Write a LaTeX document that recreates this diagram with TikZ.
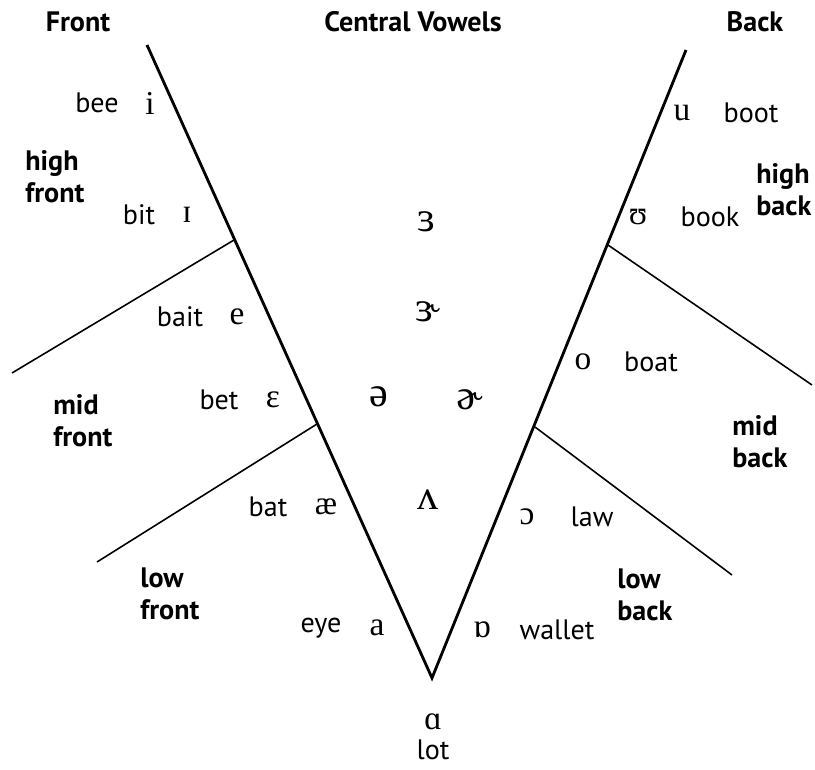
\documentclass[tikz,border=0pt]{standalone}
\usepackage{fontspec}
\setmainfont{PT Sans}
\newfontfamily\ipafont{Liberation Serif}
\begin{document}
\tikzset{
  word/.style={font=\fontsize{16}{18}\selectfont, inner sep=0pt},
  sym/.style={font=\ipafont\fontsize{19}{21}\selectfont, inner sep=0pt},
  midsym/.style={font=\ipafont\fontsize{24}{26}\selectfont, inner sep=0pt},
  region/.style={font=\bfseries\fontsize{16}{18}\selectfont, align=left, inner sep=0pt, anchor=west},
  heading/.style={font=\bfseries\fontsize{16}{18}\selectfont, inner sep=0pt},
}
\begin{tikzpicture}[x=0.02cm, y=-0.02cm]
  \useasboundingbox (0,0) rectangle (815,770);

  % The V
  \coordinate (V) at (432,678);
  \coordinate (FT) at (147,45);
  \coordinate (BT) at (686,50);

  % Branches on the front side
  \coordinate (F1) at (234,240);
  \coordinate (F1e) at (12,373);
  \coordinate (F2) at (317,424);
  \coordinate (F2e) at (97,562);

  % Branches on the back side
  \coordinate (B1) at (608,245);
  \coordinate (B1e) at (812,385);
  \coordinate (B2) at (535,427);
  \coordinate (B2e) at (732,575);

  \draw[line width=1.6pt] (FT) -- (V) -- (BT);
  \draw[line width=0.9pt] (F1) -- (F1e);
  \draw[line width=0.9pt] (F2) -- (F2e);
  \draw[line width=0.9pt] (B1) -- (B1e);
  \draw[line width=0.9pt] (B2) -- (B2e);

  % Headings
  \node[heading] (front) at (78,22) {Front};
  \node[heading] (central) at (413,22) {Central Vowels};
  \node[heading] (back) at (755,22) {Back};

  % Front vowels
  \node[word] (bee) at (97,103) {bee};
  \node[sym] (i) at (150,103) {i};
  \node[word] (bit) at (139,215) {bit};
  \node[sym] (I) at (187,215) {ɪ};
  \node[word] (bait) at (180,317) {bait};
  \node[sym] (e) at (237,317) {e};
  \node[word] (bet) at (219,400) {bet};
  \node[sym] (E) at (273,400) {ɛ};
  \node[word] (bat) at (268,507) {bat};
  \node[sym] (ae) at (326,507) {æ};
  \node[word] (eye) at (321,628) {eye};
  \node[sym] (a) at (377,628) {a};

  \node[region] (highF) at (25,177) {high\\front};
  \node[region] (midF) at (53,421) {mid\\front};
  \node[region] (lowF) at (140,594) {low\\front};

  % Central vowels
  \node[midsym] (er) at (426,222) {ɜ};
  \node[midsym] (err) at (428,312) {ɝ};
  \node[midsym] (schwa) at (379,397) {ə};
  \node[midsym] (schwar) at (470,400) {ɚ};
  \node[midsym] (wedge) at (428,500) {ʌ};
  \node[sym] (ah) at (433,722) {ɑ};
  \node[word] (lot) at (433,750) {lot};

  % Back vowels
  \node[sym] (u) at (682,113) {u};
  \node[word] (boot) at (751,113) {boot};
  \node[sym] (U) at (638,217) {ʊ};
  \node[word] (book) at (710,217) {book};
  \node[sym] (o) at (583,362) {o};
  \node[word] (boat) at (651,362) {boat};
  \node[sym] (O) at (527,517) {ɔ};
  \node[word] (law) at (592,517) {law};
  \node[sym] (D) at (482,630) {ɒ};
  \node[word] (wallet) at (557,630) {wallet};

  \node[region] (highB) at (756,190) {high\\back};
  \node[region] (midB) at (732,442) {mid\\back};
  \node[region] (lowB) at (617,595) {low\\back};
\end{tikzpicture}
\end{document}
